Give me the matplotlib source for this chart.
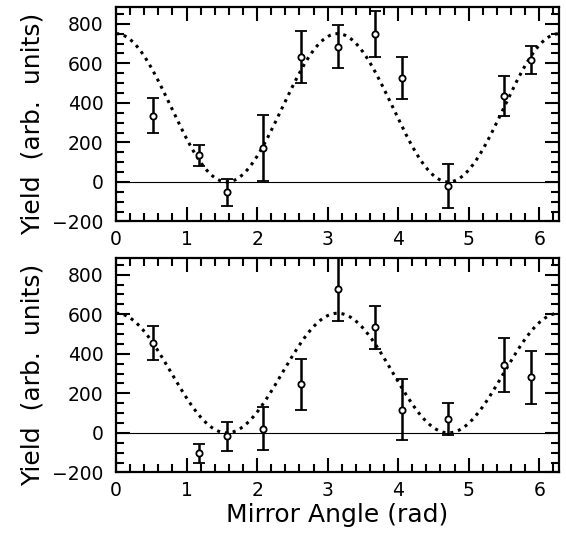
import numpy as np
import matplotlib.pyplot as plt
from matplotlib.ticker import MultipleLocator

# mirror angles (rad)
angles = [0.52, 1.18, 1.57, 2.09, 2.62, 3.14, 3.67, 4.05, 4.71, 5.50, 5.89]

# top panel
yield_top = [336, 136, -53, 172, 632, 683, 748, 525, -21, 436, 616]
err_top = [90, 53, 70, 167, 133, 109, 115, 105, 113, 101, 70]
amp_top = 750

# bottom panel
yield_bot = [455, -103, -17, 22, 245, 726, 534, 117, 70, 343, 280]
err_bot = [87, 48, 74, 108, 127, 160, 110, 154, 82, 135, 134]
amp_bot = 605

plt.rcParams['font.family'] = ['DejaVu Sans']

fig = plt.figure(figsize=(5.66, 5.35), dpi=100)
ax1 = fig.add_axes([0.205, 0.586, 0.783, 0.401])
ax2 = fig.add_axes([0.205, 0.117, 0.783, 0.401])

xx = np.linspace(0, 2 * np.pi, 400)

for ax, y, e, amp in [(ax1, yield_top, err_top, amp_top), (ax2, yield_bot, err_bot, amp_bot)]:
    ax.axhline(0, color='black', lw=0.8)
    # fitted cos^2 curve
    ax.plot(xx, amp * np.cos(xx) ** 2, color='black', ls=(0, (1, 1.6)), lw=2.2)
    ax.errorbar(angles, y, yerr=e, fmt='o', mfc='white', mec='black', mew=1.3,
                ms=4.5, color='black', elinewidth=1.8, capsize=4, capthick=1.8)
    ax.set_xlim(0, 2 * np.pi)
    ax.set_ylim(-200, 885)
    ax.xaxis.set_major_locator(MultipleLocator(1))
    ax.xaxis.set_minor_locator(MultipleLocator(0.2))
    ax.yaxis.set_major_locator(MultipleLocator(200))
    ax.yaxis.set_minor_locator(MultipleLocator(50))
    ax.tick_params(which='both', direction='in', top=True, right=True, width=1.5, labelsize=13.5)
    ax.tick_params(which='major', length=10)
    ax.tick_params(which='minor', length=6)
    ax.tick_params(axis='x', pad=6)
    ax.tick_params(axis='y', pad=9)
    for s in ax.spines.values():
        s.set_linewidth(1.6)
    ax.set_ylabel('Yield  (arb.  units)', fontsize=18)
    ax.yaxis.set_label_coords(-0.162, 0.453)

ax2.set_xlabel('Mirror Angle (rad)', fontsize=18, labelpad=2)

fig.savefig('out.png', dpi=100)
